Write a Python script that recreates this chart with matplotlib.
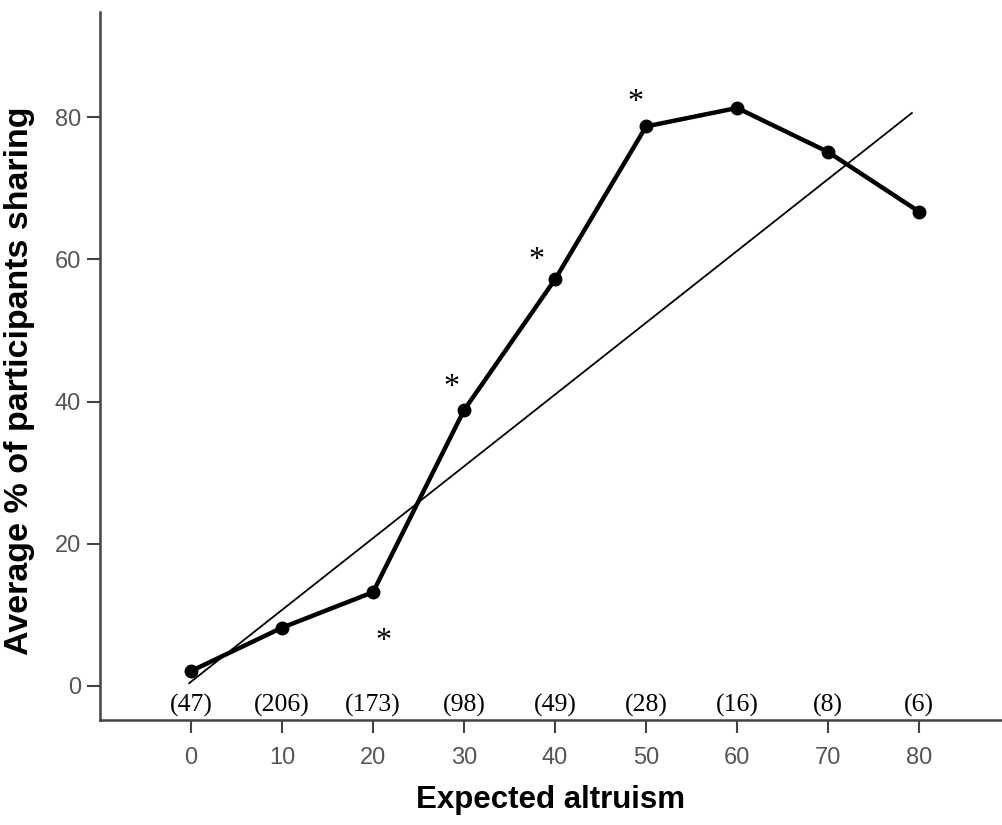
import numpy as np
import matplotlib.pyplot as plt
from matplotlib import font_manager

# Data
altruism = [0, 10, 20, 30, 40, 50, 60, 70, 80]
pct_sharing = [2.1, 8.2, 13.2, 38.8, 57.2, 78.7, 81.3, 75.1, 66.7]
n_counts = ['(47)', '(206)', '(173)', '(98)', '(49)', '(28)', '(16)', '(8)', '(6)']

# significance markers (x, y) next to points
star_x = [21.1, 28.6, 37.9, 48.8]
star_y = [6.3, 42.0, 59.8, 82.0]

# linear fit line
fit_intercept = 0.6
fit_slope = 1.01
fit_range = [-0.2, 79.2]

names = {f.name for f in font_manager.fontManager.ttflist}
tick_font = 'Liberation Sans Narrow' if 'Liberation Sans Narrow' in names else 'Liberation Sans'

fig = plt.figure(figsize=(10.02, 8.25), dpi=100)
ax = fig.add_axes([0.0998, 0.1273, 0.9002, 0.8582])

# fit line
fx = np.array(fit_range)
ax.plot(fx, fit_intercept + fit_slope * fx, color='black', lw=1.3, zorder=2)

# main line with markers
ax.plot(altruism, pct_sharing, color='black', lw=3.2, marker='o', markersize=9, zorder=3)

# asterisks
for sx, sy in zip(star_x, star_y):
    ax.text(sx, sy, '*', fontsize=23, family='Liberation Serif', ha='center', va='center')

# participant counts
for x, c in zip(altruism, n_counts):
    ax.text(x, -2.7, c, fontsize=18.5, family='Liberation Serif', ha='center', va='center')

ax.set_xlim(-10, 89.1)
ax.set_ylim(-4.78, 94.8)
ax.set_xticks(altruism)
ax.set_yticks([0, 20, 40, 60, 80])

for side in ['top', 'right']:
    ax.spines[side].set_visible(False)
for side in ['left', 'bottom']:
    ax.spines[side].set_color('#444444')
    ax.spines[side].set_linewidth(1.8)

ax.tick_params(axis='both', direction='out', length=9.5, width=1.5, color='#444444',
               labelcolor='#555555', labelsize=17)
ax.tick_params(axis='x', pad=10)
ax.tick_params(axis='y', pad=4)
for lab in ax.get_xticklabels() + ax.get_yticklabels():
    lab.set_family(tick_font)

ax.set_xlabel('Expected altruism', fontsize=22.5, fontweight='bold', family='Liberation Sans')
ax.set_ylabel('Average % of participants sharing', fontsize=24.5, fontweight='bold', family='Liberation Sans')
ax.xaxis.set_label_coords(0.5, -0.092)
ax.yaxis.set_label_coords(-0.072, 0.479)

fig.savefig('out.png', dpi=100)
